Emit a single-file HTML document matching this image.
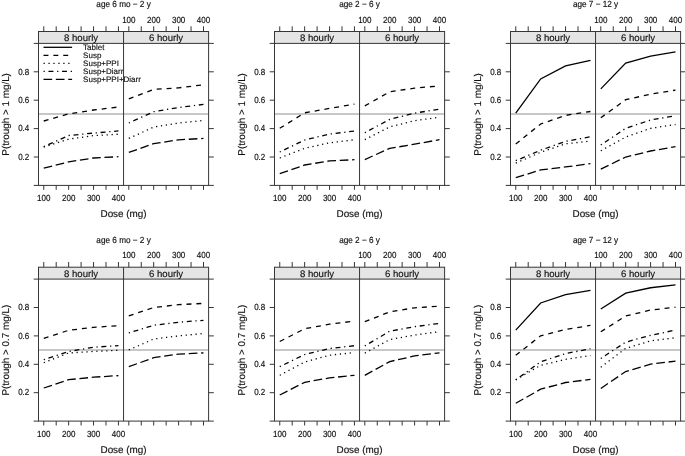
<!DOCTYPE html><html><head><meta charset="utf-8"><style>html,body{margin:0;padding:0;background:#fff;width:685px;height:456px;overflow:hidden}svg{display:block;will-change:transform}text{font-family:"Liberation Sans",sans-serif;fill:#111;stroke:#111;stroke-width:0.15px;text-rendering:geometricPrecision}</style></head><body>
<svg width="685" height="456" viewBox="0 0 685 456">
<rect x="0" y="0" width="685" height="456" fill="#fff"/>
<rect x="38.5" y="31.5" width="170.1" height="11.9" fill="#e5e5e5"/>
<line x1="38.5" y1="114.05" x2="208.6" y2="114.05" stroke="#b4b4b4" stroke-width="1.5"/>
<polyline points="43.75,121 68.65,113.9 93.55,110 118.45,107" fill="none" stroke="#000" stroke-width="1.3" stroke-dasharray="4.94,4.94"/>
<polyline points="43.75,147.1 68.65,139.2 93.55,135.6 118.45,134.2" fill="none" stroke="#000" stroke-width="1.3" stroke-dasharray="1.24,3.71"/>
<polyline points="43.75,146.6 68.65,135.5 93.55,133.1 118.45,130.9" fill="none" stroke="#000" stroke-width="1.3" stroke-dasharray="1.24,3.71,4.94,3.71"/>
<polyline points="43.75,168.2 68.65,161.9 93.55,158 118.45,156.7" fill="none" stroke="#000" stroke-width="1.3" stroke-dasharray="8.65,3.71"/>
<polyline points="128.8,98.78 153.7,89.41 178.6,87.85 203.5,84.72" fill="none" stroke="#000" stroke-width="1.3" stroke-dasharray="4.94,4.94"/>
<polyline points="128.8,138.4 153.7,127.1 178.6,123 203.5,120.5" fill="none" stroke="#000" stroke-width="1.3" stroke-dasharray="1.24,3.71"/>
<polyline points="128.8,123 153.7,111.7 178.6,107.5 203.5,104.4" fill="none" stroke="#000" stroke-width="1.3" stroke-dasharray="1.24,3.71,4.94,3.71"/>
<polyline points="128.8,152.46 153.7,143.65 178.6,139.82 203.5,138.4" fill="none" stroke="#000" stroke-width="1.3" stroke-dasharray="8.65,3.71"/>
<line x1="43.5" y1="47.3" x2="72.1" y2="47.3" stroke="#000" stroke-width="1.3"/>
<text x="83.1" y="50.3" font-size="8.0">Tablet</text>
<line x1="43.5" y1="55.3" x2="72.1" y2="55.3" stroke="#000" stroke-width="1.3" stroke-dasharray="4.94,4.94"/>
<text x="83.1" y="58.3" font-size="8.0">Susp</text>
<line x1="43.5" y1="63.3" x2="72.1" y2="63.3" stroke="#000" stroke-width="1.3" stroke-dasharray="1.24,3.71"/>
<text x="83.1" y="66.3" font-size="8.0">Susp+PPI</text>
<line x1="43.5" y1="71.3" x2="72.1" y2="71.3" stroke="#000" stroke-width="1.3" stroke-dasharray="1.24,3.71,4.94,3.71"/>
<text x="83.1" y="74.3" font-size="8.0">Susp+Diarr</text>
<line x1="43.5" y1="79.3" x2="72.1" y2="79.3" stroke="#000" stroke-width="1.3" stroke-dasharray="8.65,3.71"/>
<text x="83.1" y="82.3" font-size="8.0">Susp+PPI+Diarr</text>
<g stroke="#363636" stroke-width="1.0" fill="none">
<rect x="38.5" y="31.5" width="170.1" height="153.9"/>
<line x1="123.55" y1="31.5" x2="123.55" y2="185.4"/>
<line x1="38.5" y1="43.4" x2="208.6" y2="43.4"/>
<path d="M43.75 31.5V26.3M43.75 185.4V189.8M128.8 31.5V26.3M128.8 185.4V189.8M56.2 31.5V26.3M56.2 185.4V189.8M141.25 31.5V26.3M141.25 185.4V189.8M68.65 31.5V26.3M68.65 185.4V189.8M153.7 31.5V26.3M153.7 185.4V189.8M81.1 31.5V26.3M81.1 185.4V189.8M166.15 31.5V26.3M166.15 185.4V189.8M93.55 31.5V26.3M93.55 185.4V189.8M178.6 31.5V26.3M178.6 185.4V189.8M106 31.5V26.3M106 185.4V189.8M191.05 31.5V26.3M191.05 185.4V189.8M118.45 31.5V26.3M118.45 185.4V189.8M203.5 31.5V26.3M203.5 185.4V189.8M38.5 185.4H33.7M208.6 185.4H213.8M38.5 157H33.7M208.6 157H213.8M38.5 128.6H33.7M208.6 128.6H213.8M38.5 100.2H33.7M208.6 100.2H213.8M38.5 71.8H33.7M208.6 71.8H213.8M38.5 43.4H33.7M208.6 43.4H213.8"/>
</g>
<text transform="translate(123.55 7.2) scale(1 1.08)" font-size="8.2" text-anchor="middle">age 6 mo − 2 y</text>
<text transform="translate(128.8 22.5) scale(1 1.1)" font-size="8.0" text-anchor="middle">100</text>
<text transform="translate(43.75 200.8) scale(1 1.1)" font-size="8.0" text-anchor="middle">100</text>
<text transform="translate(153.7 22.5) scale(1 1.1)" font-size="8.0" text-anchor="middle">200</text>
<text transform="translate(68.65 200.8) scale(1 1.1)" font-size="8.0" text-anchor="middle">200</text>
<text transform="translate(178.6 22.5) scale(1 1.1)" font-size="8.0" text-anchor="middle">300</text>
<text transform="translate(93.55 200.8) scale(1 1.1)" font-size="8.0" text-anchor="middle">300</text>
<text transform="translate(203.5 22.5) scale(1 1.1)" font-size="8.0" text-anchor="middle">400</text>
<text transform="translate(118.45 200.8) scale(1 1.1)" font-size="8.0" text-anchor="middle">400</text>
<text transform="translate(29.3 159.72) scale(1 1.1)" font-size="8.0" text-anchor="end">0.2</text>
<text transform="translate(29.3 131.32) scale(1 1.1)" font-size="8.0" text-anchor="end">0.4</text>
<text transform="translate(29.3 102.92) scale(1 1.1)" font-size="8.0" text-anchor="end">0.6</text>
<text transform="translate(29.3 74.52) scale(1 1.1)" font-size="8.0" text-anchor="end">0.8</text>
<text x="123.55" y="216.6" font-size="9.9" text-anchor="middle">Dose (mg)</text>
<text x="166.07" y="41" font-size="9.6" text-anchor="middle">6 hourly</text>
<text x="81.03" y="41" font-size="9.6" text-anchor="middle">8 hourly</text>
<text transform="translate(8.5 114.4) rotate(-90)" x="0" y="0" font-size="9.9" text-anchor="middle">P(trough &gt; 1 mg/L)</text>
<rect x="274.5" y="31.5" width="170.1" height="11.9" fill="#e5e5e5"/>
<line x1="274.5" y1="114.05" x2="444.6" y2="114.05" stroke="#b4b4b4" stroke-width="1.5"/>
<polyline points="279.75,128.3 304.65,112.8 329.55,108.4 354.45,104.1" fill="none" stroke="#000" stroke-width="1.3" stroke-dasharray="4.94,4.94"/>
<polyline points="279.75,158 304.65,148.3 329.55,142.8 354.45,139.8" fill="none" stroke="#000" stroke-width="1.3" stroke-dasharray="1.24,3.71"/>
<polyline points="279.75,152 304.65,140 329.55,134.1 354.45,131" fill="none" stroke="#000" stroke-width="1.3" stroke-dasharray="1.24,3.71,4.94,3.71"/>
<polyline points="279.75,173.7 304.65,165 329.55,160.9 354.45,159.7" fill="none" stroke="#000" stroke-width="1.3" stroke-dasharray="8.65,3.71"/>
<polyline points="364.8,105.88 389.7,91.82 414.6,88.13 439.5,85.86" fill="none" stroke="#000" stroke-width="1.3" stroke-dasharray="4.94,4.94"/>
<polyline points="364.8,139.68 389.7,126.9 414.6,120.65 439.5,117.24" fill="none" stroke="#000" stroke-width="1.3" stroke-dasharray="1.24,3.71"/>
<polyline points="364.8,132.72 389.7,119.37 414.6,113.12 439.5,109.15" fill="none" stroke="#000" stroke-width="1.3" stroke-dasharray="1.24,3.71,4.94,3.71"/>
<polyline points="364.8,159.56 389.7,148.34 414.6,144.22 439.5,139.68" fill="none" stroke="#000" stroke-width="1.3" stroke-dasharray="8.65,3.71"/>
<g stroke="#363636" stroke-width="1.0" fill="none">
<rect x="274.5" y="31.5" width="170.1" height="153.9"/>
<line x1="359.55" y1="31.5" x2="359.55" y2="185.4"/>
<line x1="274.5" y1="43.4" x2="444.6" y2="43.4"/>
<path d="M279.75 31.5V26.3M279.75 185.4V189.8M364.8 31.5V26.3M364.8 185.4V189.8M292.2 31.5V26.3M292.2 185.4V189.8M377.25 31.5V26.3M377.25 185.4V189.8M304.65 31.5V26.3M304.65 185.4V189.8M389.7 31.5V26.3M389.7 185.4V189.8M317.1 31.5V26.3M317.1 185.4V189.8M402.15 31.5V26.3M402.15 185.4V189.8M329.55 31.5V26.3M329.55 185.4V189.8M414.6 31.5V26.3M414.6 185.4V189.8M342 31.5V26.3M342 185.4V189.8M427.05 31.5V26.3M427.05 185.4V189.8M354.45 31.5V26.3M354.45 185.4V189.8M439.5 31.5V26.3M439.5 185.4V189.8M274.5 185.4H269.7M444.6 185.4H449.8M274.5 157H269.7M444.6 157H449.8M274.5 128.6H269.7M444.6 128.6H449.8M274.5 100.2H269.7M444.6 100.2H449.8M274.5 71.8H269.7M444.6 71.8H449.8M274.5 43.4H269.7M444.6 43.4H449.8"/>
</g>
<text transform="translate(359.55 7.2) scale(1 1.08)" font-size="8.2" text-anchor="middle">age 2 − 6 y</text>
<text transform="translate(364.8 22.5) scale(1 1.1)" font-size="8.0" text-anchor="middle">100</text>
<text transform="translate(279.75 200.8) scale(1 1.1)" font-size="8.0" text-anchor="middle">100</text>
<text transform="translate(389.7 22.5) scale(1 1.1)" font-size="8.0" text-anchor="middle">200</text>
<text transform="translate(304.65 200.8) scale(1 1.1)" font-size="8.0" text-anchor="middle">200</text>
<text transform="translate(414.6 22.5) scale(1 1.1)" font-size="8.0" text-anchor="middle">300</text>
<text transform="translate(329.55 200.8) scale(1 1.1)" font-size="8.0" text-anchor="middle">300</text>
<text transform="translate(439.5 22.5) scale(1 1.1)" font-size="8.0" text-anchor="middle">400</text>
<text transform="translate(354.45 200.8) scale(1 1.1)" font-size="8.0" text-anchor="middle">400</text>
<text transform="translate(265.3 159.72) scale(1 1.1)" font-size="8.0" text-anchor="end">0.2</text>
<text transform="translate(265.3 131.32) scale(1 1.1)" font-size="8.0" text-anchor="end">0.4</text>
<text transform="translate(265.3 102.92) scale(1 1.1)" font-size="8.0" text-anchor="end">0.6</text>
<text transform="translate(265.3 74.52) scale(1 1.1)" font-size="8.0" text-anchor="end">0.8</text>
<text x="359.55" y="216.6" font-size="9.9" text-anchor="middle">Dose (mg)</text>
<text x="402.08" y="41" font-size="9.6" text-anchor="middle">6 hourly</text>
<text x="317.02" y="41" font-size="9.6" text-anchor="middle">8 hourly</text>
<text transform="translate(244.5 114.4) rotate(-90)" x="0" y="0" font-size="9.9" text-anchor="middle">P(trough &gt; 1 mg/L)</text>
<rect x="510.5" y="31.5" width="170.1" height="11.9" fill="#e5e5e5"/>
<line x1="510.5" y1="114.05" x2="680.6" y2="114.05" stroke="#b4b4b4" stroke-width="1.5"/>
<polyline points="515.75,113.12 540.65,78.9 565.55,65.98 590.45,60.3" fill="none" stroke="#000" stroke-width="1.3"/>
<polyline points="515.75,144 540.65,124 565.55,115.4 590.45,111.5" fill="none" stroke="#000" stroke-width="1.3" stroke-dasharray="4.94,4.94"/>
<polyline points="515.75,163.2 540.65,152.3 565.55,143.8 590.45,141.1" fill="none" stroke="#000" stroke-width="1.3" stroke-dasharray="1.24,3.71"/>
<polyline points="515.75,160.7 540.65,150.2 565.55,141.4 590.45,136.8" fill="none" stroke="#000" stroke-width="1.3" stroke-dasharray="1.24,3.71,4.94,3.71"/>
<polyline points="515.75,177.73 540.65,169.92 565.55,166.94 590.45,163.67" fill="none" stroke="#000" stroke-width="1.3" stroke-dasharray="8.65,3.71"/>
<polyline points="600.8,88.84 625.7,63.14 650.6,56.04 675.5,51.92" fill="none" stroke="#000" stroke-width="1.3"/>
<polyline points="600.8,117.8 625.7,99.7 650.6,94.2 675.5,90.1" fill="none" stroke="#000" stroke-width="1.3" stroke-dasharray="4.94,4.94"/>
<polyline points="600.8,150.8 625.7,137 650.6,128.4 675.5,124.5" fill="none" stroke="#000" stroke-width="1.3" stroke-dasharray="1.24,3.71"/>
<polyline points="600.8,145 625.7,128.3 650.6,120 675.5,115.7" fill="none" stroke="#000" stroke-width="1.3" stroke-dasharray="1.24,3.71,4.94,3.71"/>
<polyline points="600.8,169.2 625.7,157 650.6,151 675.5,146.7" fill="none" stroke="#000" stroke-width="1.3" stroke-dasharray="8.65,3.71"/>
<g stroke="#363636" stroke-width="1.0" fill="none">
<rect x="510.5" y="31.5" width="170.1" height="153.9"/>
<line x1="595.55" y1="31.5" x2="595.55" y2="185.4"/>
<line x1="510.5" y1="43.4" x2="680.6" y2="43.4"/>
<path d="M515.75 31.5V26.3M515.75 185.4V189.8M600.8 31.5V26.3M600.8 185.4V189.8M528.2 31.5V26.3M528.2 185.4V189.8M613.25 31.5V26.3M613.25 185.4V189.8M540.65 31.5V26.3M540.65 185.4V189.8M625.7 31.5V26.3M625.7 185.4V189.8M553.1 31.5V26.3M553.1 185.4V189.8M638.15 31.5V26.3M638.15 185.4V189.8M565.55 31.5V26.3M565.55 185.4V189.8M650.6 31.5V26.3M650.6 185.4V189.8M578 31.5V26.3M578 185.4V189.8M663.05 31.5V26.3M663.05 185.4V189.8M590.45 31.5V26.3M590.45 185.4V189.8M675.5 31.5V26.3M675.5 185.4V189.8M510.5 185.4H505.7M680.6 185.4H685.8M510.5 157H505.7M680.6 157H685.8M510.5 128.6H505.7M680.6 128.6H685.8M510.5 100.2H505.7M680.6 100.2H685.8M510.5 71.8H505.7M680.6 71.8H685.8M510.5 43.4H505.7M680.6 43.4H685.8"/>
</g>
<text transform="translate(595.55 7.2) scale(1 1.08)" font-size="8.2" text-anchor="middle">age 7 − 12 y</text>
<text transform="translate(600.8 22.5) scale(1 1.1)" font-size="8.0" text-anchor="middle">100</text>
<text transform="translate(515.75 200.8) scale(1 1.1)" font-size="8.0" text-anchor="middle">100</text>
<text transform="translate(625.7 22.5) scale(1 1.1)" font-size="8.0" text-anchor="middle">200</text>
<text transform="translate(540.65 200.8) scale(1 1.1)" font-size="8.0" text-anchor="middle">200</text>
<text transform="translate(650.6 22.5) scale(1 1.1)" font-size="8.0" text-anchor="middle">300</text>
<text transform="translate(565.55 200.8) scale(1 1.1)" font-size="8.0" text-anchor="middle">300</text>
<text transform="translate(675.5 22.5) scale(1 1.1)" font-size="8.0" text-anchor="middle">400</text>
<text transform="translate(590.45 200.8) scale(1 1.1)" font-size="8.0" text-anchor="middle">400</text>
<text transform="translate(501.3 159.72) scale(1 1.1)" font-size="8.0" text-anchor="end">0.2</text>
<text transform="translate(501.3 131.32) scale(1 1.1)" font-size="8.0" text-anchor="end">0.4</text>
<text transform="translate(501.3 102.92) scale(1 1.1)" font-size="8.0" text-anchor="end">0.6</text>
<text transform="translate(501.3 74.52) scale(1 1.1)" font-size="8.0" text-anchor="end">0.8</text>
<text x="595.55" y="216.6" font-size="9.9" text-anchor="middle">Dose (mg)</text>
<text x="638.07" y="41" font-size="9.6" text-anchor="middle">6 hourly</text>
<text x="553.02" y="41" font-size="9.6" text-anchor="middle">8 hourly</text>
<text transform="translate(480.5 114.4) rotate(-90)" x="0" y="0" font-size="9.9" text-anchor="middle">P(trough &gt; 1 mg/L)</text>
<rect x="38.5" y="267.2" width="170.1" height="11.9" fill="#e5e5e5"/>
<line x1="38.5" y1="350" x2="208.6" y2="350" stroke="#b4b4b4" stroke-width="1.5"/>
<polyline points="43.75,338.3 68.65,330.3 93.55,327.3 118.45,325.7" fill="none" stroke="#000" stroke-width="1.3" stroke-dasharray="4.94,4.94"/>
<polyline points="43.75,362.7 68.65,353 93.55,351.4 118.45,350.3" fill="none" stroke="#000" stroke-width="1.3" stroke-dasharray="1.24,3.71"/>
<polyline points="43.75,359.7 68.65,351.5 93.55,347.2 118.45,345.7" fill="none" stroke="#000" stroke-width="1.3" stroke-dasharray="1.24,3.71,4.94,3.71"/>
<polyline points="43.75,388 68.65,379.7 93.55,377.2 118.45,375.6" fill="none" stroke="#000" stroke-width="1.3" stroke-dasharray="8.65,3.71"/>
<polyline points="128.8,315.88 153.7,307.5 178.6,304.66 203.5,303.38" fill="none" stroke="#000" stroke-width="1.3" stroke-dasharray="4.94,4.94"/>
<polyline points="128.8,349.96 153.7,339.02 178.6,335.9 203.5,333.49" fill="none" stroke="#000" stroke-width="1.3" stroke-dasharray="1.24,3.71"/>
<polyline points="128.8,332.92 153.7,325.25 178.6,322.27 203.5,320.28" fill="none" stroke="#000" stroke-width="1.3" stroke-dasharray="1.24,3.71,4.94,3.71"/>
<polyline points="128.8,366.7 153.7,357.7 178.6,354.1 203.5,352.9" fill="none" stroke="#000" stroke-width="1.3" stroke-dasharray="8.65,3.71"/>
<g stroke="#363636" stroke-width="1.0" fill="none">
<rect x="38.5" y="267.2" width="170.1" height="153.9"/>
<line x1="123.55" y1="267.2" x2="123.55" y2="421.1"/>
<line x1="38.5" y1="279.1" x2="208.6" y2="279.1"/>
<path d="M43.75 267.2V262M43.75 421.1V425.5M128.8 267.2V262M128.8 421.1V425.5M56.2 267.2V262M56.2 421.1V425.5M141.25 267.2V262M141.25 421.1V425.5M68.65 267.2V262M68.65 421.1V425.5M153.7 267.2V262M153.7 421.1V425.5M81.1 267.2V262M81.1 421.1V425.5M166.15 267.2V262M166.15 421.1V425.5M93.55 267.2V262M93.55 421.1V425.5M178.6 267.2V262M178.6 421.1V425.5M106 267.2V262M106 421.1V425.5M191.05 267.2V262M191.05 421.1V425.5M118.45 267.2V262M118.45 421.1V425.5M203.5 267.2V262M203.5 421.1V425.5M38.5 421.1H33.7M208.6 421.1H213.8M38.5 392.7H33.7M208.6 392.7H213.8M38.5 364.3H33.7M208.6 364.3H213.8M38.5 335.9H33.7M208.6 335.9H213.8M38.5 307.5H33.7M208.6 307.5H213.8M38.5 279.1H33.7M208.6 279.1H213.8"/>
</g>
<text transform="translate(123.55 242.9) scale(1 1.08)" font-size="8.2" text-anchor="middle">age 6 mo − 2 y</text>
<text transform="translate(128.8 258.2) scale(1 1.1)" font-size="8.0" text-anchor="middle">100</text>
<text transform="translate(43.75 436.5) scale(1 1.1)" font-size="8.0" text-anchor="middle">100</text>
<text transform="translate(153.7 258.2) scale(1 1.1)" font-size="8.0" text-anchor="middle">200</text>
<text transform="translate(68.65 436.5) scale(1 1.1)" font-size="8.0" text-anchor="middle">200</text>
<text transform="translate(178.6 258.2) scale(1 1.1)" font-size="8.0" text-anchor="middle">300</text>
<text transform="translate(93.55 436.5) scale(1 1.1)" font-size="8.0" text-anchor="middle">300</text>
<text transform="translate(203.5 258.2) scale(1 1.1)" font-size="8.0" text-anchor="middle">400</text>
<text transform="translate(118.45 436.5) scale(1 1.1)" font-size="8.0" text-anchor="middle">400</text>
<text transform="translate(29.3 395.42) scale(1 1.1)" font-size="8.0" text-anchor="end">0.2</text>
<text transform="translate(29.3 367.02) scale(1 1.1)" font-size="8.0" text-anchor="end">0.4</text>
<text transform="translate(29.3 338.62) scale(1 1.1)" font-size="8.0" text-anchor="end">0.6</text>
<text transform="translate(29.3 310.22) scale(1 1.1)" font-size="8.0" text-anchor="end">0.8</text>
<text x="123.55" y="452.8" font-size="9.9" text-anchor="middle">Dose (mg)</text>
<text x="166.07" y="276.7" font-size="9.6" text-anchor="middle">6 hourly</text>
<text x="81.03" y="276.7" font-size="9.6" text-anchor="middle">8 hourly</text>
<text transform="translate(8.5 350.1) rotate(-90)" x="0" y="0" font-size="9.9" text-anchor="middle">P(trough &gt; 0.7 mg/L)</text>
<rect x="274.5" y="267.2" width="170.1" height="11.9" fill="#e5e5e5"/>
<line x1="274.5" y1="350" x2="444.6" y2="350" stroke="#b4b4b4" stroke-width="1.5"/>
<polyline points="279.75,341.5 304.65,328.7 329.55,324.2 354.45,321.1" fill="none" stroke="#000" stroke-width="1.3" stroke-dasharray="4.94,4.94"/>
<polyline points="279.75,375.3 304.65,362 329.55,355.2 354.45,352.6" fill="none" stroke="#000" stroke-width="1.3" stroke-dasharray="1.24,3.71"/>
<polyline points="279.75,366.7 304.65,354.5 329.55,348.5 354.45,345.7" fill="none" stroke="#000" stroke-width="1.3" stroke-dasharray="1.24,3.71,4.94,3.71"/>
<polyline points="279.75,395 304.65,382.3 329.55,377.9 354.45,375.3" fill="none" stroke="#000" stroke-width="1.3" stroke-dasharray="8.65,3.71"/>
<polyline points="364.8,321.7 389.7,311.9 414.6,307.78 439.5,306.22" fill="none" stroke="#000" stroke-width="1.3" stroke-dasharray="4.94,4.94"/>
<polyline points="364.8,353.08 389.7,339.59 414.6,335.05 439.5,331.64" fill="none" stroke="#000" stroke-width="1.3" stroke-dasharray="1.24,3.71"/>
<polyline points="364.8,345.84 389.7,331.21 414.6,326.67 439.5,323.4" fill="none" stroke="#000" stroke-width="1.3" stroke-dasharray="1.24,3.71,4.94,3.71"/>
<polyline points="364.8,375.38 389.7,361.6 414.6,355.92 439.5,352.8" fill="none" stroke="#000" stroke-width="1.3" stroke-dasharray="8.65,3.71"/>
<g stroke="#363636" stroke-width="1.0" fill="none">
<rect x="274.5" y="267.2" width="170.1" height="153.9"/>
<line x1="359.55" y1="267.2" x2="359.55" y2="421.1"/>
<line x1="274.5" y1="279.1" x2="444.6" y2="279.1"/>
<path d="M279.75 267.2V262M279.75 421.1V425.5M364.8 267.2V262M364.8 421.1V425.5M292.2 267.2V262M292.2 421.1V425.5M377.25 267.2V262M377.25 421.1V425.5M304.65 267.2V262M304.65 421.1V425.5M389.7 267.2V262M389.7 421.1V425.5M317.1 267.2V262M317.1 421.1V425.5M402.15 267.2V262M402.15 421.1V425.5M329.55 267.2V262M329.55 421.1V425.5M414.6 267.2V262M414.6 421.1V425.5M342 267.2V262M342 421.1V425.5M427.05 267.2V262M427.05 421.1V425.5M354.45 267.2V262M354.45 421.1V425.5M439.5 267.2V262M439.5 421.1V425.5M274.5 421.1H269.7M444.6 421.1H449.8M274.5 392.7H269.7M444.6 392.7H449.8M274.5 364.3H269.7M444.6 364.3H449.8M274.5 335.9H269.7M444.6 335.9H449.8M274.5 307.5H269.7M444.6 307.5H449.8M274.5 279.1H269.7M444.6 279.1H449.8"/>
</g>
<text transform="translate(359.55 242.9) scale(1 1.08)" font-size="8.2" text-anchor="middle">age 2 − 6 y</text>
<text transform="translate(364.8 258.2) scale(1 1.1)" font-size="8.0" text-anchor="middle">100</text>
<text transform="translate(279.75 436.5) scale(1 1.1)" font-size="8.0" text-anchor="middle">100</text>
<text transform="translate(389.7 258.2) scale(1 1.1)" font-size="8.0" text-anchor="middle">200</text>
<text transform="translate(304.65 436.5) scale(1 1.1)" font-size="8.0" text-anchor="middle">200</text>
<text transform="translate(414.6 258.2) scale(1 1.1)" font-size="8.0" text-anchor="middle">300</text>
<text transform="translate(329.55 436.5) scale(1 1.1)" font-size="8.0" text-anchor="middle">300</text>
<text transform="translate(439.5 258.2) scale(1 1.1)" font-size="8.0" text-anchor="middle">400</text>
<text transform="translate(354.45 436.5) scale(1 1.1)" font-size="8.0" text-anchor="middle">400</text>
<text transform="translate(265.3 395.42) scale(1 1.1)" font-size="8.0" text-anchor="end">0.2</text>
<text transform="translate(265.3 367.02) scale(1 1.1)" font-size="8.0" text-anchor="end">0.4</text>
<text transform="translate(265.3 338.62) scale(1 1.1)" font-size="8.0" text-anchor="end">0.6</text>
<text transform="translate(265.3 310.22) scale(1 1.1)" font-size="8.0" text-anchor="end">0.8</text>
<text x="359.55" y="452.8" font-size="9.9" text-anchor="middle">Dose (mg)</text>
<text x="402.08" y="276.7" font-size="9.6" text-anchor="middle">6 hourly</text>
<text x="317.02" y="276.7" font-size="9.6" text-anchor="middle">8 hourly</text>
<text transform="translate(244.5 350.1) rotate(-90)" x="0" y="0" font-size="9.9" text-anchor="middle">P(trough &gt; 0.7 mg/L)</text>
<rect x="510.5" y="267.2" width="170.1" height="11.9" fill="#e5e5e5"/>
<line x1="510.5" y1="350" x2="680.6" y2="350" stroke="#b4b4b4" stroke-width="1.5"/>
<polyline points="515.75,330.08 540.65,302.96 565.55,294.58 590.45,290.46" fill="none" stroke="#000" stroke-width="1.3"/>
<polyline points="515.75,355.3 540.65,335.8 565.55,329.5 590.45,325.4" fill="none" stroke="#000" stroke-width="1.3" stroke-dasharray="4.94,4.94"/>
<polyline points="515.75,379.7 540.65,365.3 565.55,359.4 590.45,355.6" fill="none" stroke="#000" stroke-width="1.3" stroke-dasharray="1.24,3.71"/>
<polyline points="515.75,380 540.65,361.7 565.55,353.6 590.45,348.7" fill="none" stroke="#000" stroke-width="1.3" stroke-dasharray="1.24,3.71,4.94,3.71"/>
<polyline points="515.75,403.3 540.65,389.2 565.55,382.5 590.45,379.4" fill="none" stroke="#000" stroke-width="1.3" stroke-dasharray="8.65,3.71"/>
<polyline points="600.8,309.06 625.7,293.16 650.6,287.76 675.5,284.78" fill="none" stroke="#000" stroke-width="1.3"/>
<polyline points="600.8,331.78 625.7,316.02 650.6,310.06 675.5,307.22" fill="none" stroke="#000" stroke-width="1.3" stroke-dasharray="4.94,4.94"/>
<polyline points="600.8,367.28 625.7,348.4 650.6,340.87 675.5,337.75" fill="none" stroke="#000" stroke-width="1.3" stroke-dasharray="1.24,3.71"/>
<polyline points="600.8,358.48 625.7,342.15 650.6,335.33 675.5,330.08" fill="none" stroke="#000" stroke-width="1.3" stroke-dasharray="1.24,3.71,4.94,3.71"/>
<polyline points="600.8,388.44 625.7,371.54 650.6,364.16 675.5,361.18" fill="none" stroke="#000" stroke-width="1.3" stroke-dasharray="8.65,3.71"/>
<g stroke="#363636" stroke-width="1.0" fill="none">
<rect x="510.5" y="267.2" width="170.1" height="153.9"/>
<line x1="595.55" y1="267.2" x2="595.55" y2="421.1"/>
<line x1="510.5" y1="279.1" x2="680.6" y2="279.1"/>
<path d="M515.75 267.2V262M515.75 421.1V425.5M600.8 267.2V262M600.8 421.1V425.5M528.2 267.2V262M528.2 421.1V425.5M613.25 267.2V262M613.25 421.1V425.5M540.65 267.2V262M540.65 421.1V425.5M625.7 267.2V262M625.7 421.1V425.5M553.1 267.2V262M553.1 421.1V425.5M638.15 267.2V262M638.15 421.1V425.5M565.55 267.2V262M565.55 421.1V425.5M650.6 267.2V262M650.6 421.1V425.5M578 267.2V262M578 421.1V425.5M663.05 267.2V262M663.05 421.1V425.5M590.45 267.2V262M590.45 421.1V425.5M675.5 267.2V262M675.5 421.1V425.5M510.5 421.1H505.7M680.6 421.1H685.8M510.5 392.7H505.7M680.6 392.7H685.8M510.5 364.3H505.7M680.6 364.3H685.8M510.5 335.9H505.7M680.6 335.9H685.8M510.5 307.5H505.7M680.6 307.5H685.8M510.5 279.1H505.7M680.6 279.1H685.8"/>
</g>
<text transform="translate(595.55 242.9) scale(1 1.08)" font-size="8.2" text-anchor="middle">age 7 − 12 y</text>
<text transform="translate(600.8 258.2) scale(1 1.1)" font-size="8.0" text-anchor="middle">100</text>
<text transform="translate(515.75 436.5) scale(1 1.1)" font-size="8.0" text-anchor="middle">100</text>
<text transform="translate(625.7 258.2) scale(1 1.1)" font-size="8.0" text-anchor="middle">200</text>
<text transform="translate(540.65 436.5) scale(1 1.1)" font-size="8.0" text-anchor="middle">200</text>
<text transform="translate(650.6 258.2) scale(1 1.1)" font-size="8.0" text-anchor="middle">300</text>
<text transform="translate(565.55 436.5) scale(1 1.1)" font-size="8.0" text-anchor="middle">300</text>
<text transform="translate(675.5 258.2) scale(1 1.1)" font-size="8.0" text-anchor="middle">400</text>
<text transform="translate(590.45 436.5) scale(1 1.1)" font-size="8.0" text-anchor="middle">400</text>
<text transform="translate(501.3 395.42) scale(1 1.1)" font-size="8.0" text-anchor="end">0.2</text>
<text transform="translate(501.3 367.02) scale(1 1.1)" font-size="8.0" text-anchor="end">0.4</text>
<text transform="translate(501.3 338.62) scale(1 1.1)" font-size="8.0" text-anchor="end">0.6</text>
<text transform="translate(501.3 310.22) scale(1 1.1)" font-size="8.0" text-anchor="end">0.8</text>
<text x="595.55" y="452.8" font-size="9.9" text-anchor="middle">Dose (mg)</text>
<text x="638.07" y="276.7" font-size="9.6" text-anchor="middle">6 hourly</text>
<text x="553.02" y="276.7" font-size="9.6" text-anchor="middle">8 hourly</text>
<text transform="translate(480.5 350.1) rotate(-90)" x="0" y="0" font-size="9.9" text-anchor="middle">P(trough &gt; 0.7 mg/L)</text>
</svg></body></html>
